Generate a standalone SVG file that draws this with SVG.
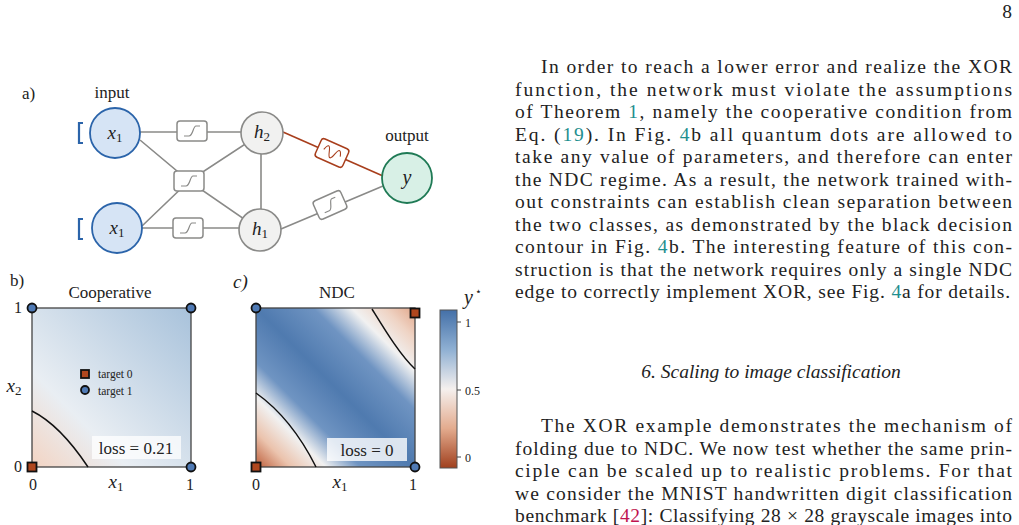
<svg xmlns="http://www.w3.org/2000/svg" width="1019" height="525" viewBox="0 0 1019 525">
<style>
text{font-family:"Liberation Serif","DejaVu Serif",serif;fill:#222}
.body{font-size:19.5px}
.lk{fill:#1f8f8f}
.rd{fill:#c0134f}
.edge{stroke:#8a8a88;stroke-width:1.6;fill:none}
.box{fill:#fff;stroke:#8a8a88;stroke-width:1.5}
.sig{fill:none;stroke:#8a8a88;stroke-width:1.2}
.in{fill:#d6e4f5;stroke:#2b64aa;stroke-width:1.8}
.hid{fill:#f1f1f0;stroke:#8a8a88;stroke-width:1.6}
.out{fill:#d8f0e6;stroke:#1f7a55;stroke-width:1.8}
.it{font-style:italic}
.lab{font-size:17px}
.tick{font-size:16px}
.mk{stroke:#111;stroke-width:1.8}
</style>
<defs>
<linearGradient id="gb" x1="0" y1="1" x2="1" y2="0">
<stop offset="0" stop-color="#f3d4c3"/><stop offset="0.3" stop-color="#e9eef3"/><stop offset="1" stop-color="#a8c2db"/>
</linearGradient>
<linearGradient id="gc" x1="0" y1="1" x2="1" y2="0">
<stop offset="0" stop-color="#bd5e3a"/><stop offset="0.11" stop-color="#ebc3ad"/><stop offset="0.22" stop-color="#f1f1f1"/><stop offset="0.33" stop-color="#6f94c2"/><stop offset="0.5" stop-color="#4f7aaf"/><stop offset="0.68" stop-color="#6f94c2"/><stop offset="0.8" stop-color="#f1f1f1"/><stop offset="0.9" stop-color="#efd4c5"/><stop offset="1" stop-color="#e2a78a"/>
</linearGradient>
<linearGradient id="gcb" x1="0" y1="1" x2="0" y2="0">
<stop offset="0" stop-color="#a0401e"/><stop offset="0.25" stop-color="#e3ab8e"/><stop offset="0.5" stop-color="#f5f0ee"/><stop offset="0.75" stop-color="#8fb0d3"/><stop offset="1" stop-color="#4470a8"/>
</linearGradient>
<g id="sg"><rect class="box" x="-15" y="-10" width="30" height="20" rx="3"/><path class="sig" d="M-8 5 H-3 C1 5 1 -5 4 -5 H8"/></g>
</defs>
<text x="1012" y="18" class="body" text-anchor="end">8</text>
<!-- panel a -->
<text x="22" y="99" class="lab">a)</text>
<text x="112" y="98" class="lab" text-anchor="middle" font-size="15">input</text>
<text x="407" y="141" class="lab" text-anchor="middle" font-size="15">output</text>
<g id="connectors">
<path class="edge" d="M140 132H262 M140 140L189 181L262 133 M142 226L189 181L260 230 M142 228H260 M261 154V209"/>
<path class="edge" d="M281 229L383 186"/>
<path d="M283 132L383 176" stroke="#a83e1c" stroke-width="1.6" fill="none"/>
</g>
<g id="box1"><use href="#sg" x="192" y="131"/></g>
<g id="box2"><use href="#sg" x="189" y="181"/></g>
<g id="box3"><use href="#sg" x="188" y="228"/></g>
<g id="box4"><use href="#sg" transform="translate(330 205) rotate(-24)"/></g>
<g id="box5" transform="translate(332 153) rotate(24)"><rect x="-15" y="-10" width="30" height="20" rx="3" fill="#fff" stroke="#a83e1c" stroke-width="1.5"/><path d="M-9 0 C-7 -7 -5 -7 -3 0 S1 7 3 0 S7 -7 9 0" fill="none" stroke="#a83e1c" stroke-width="1.1"/></g>
<g id="x1a"><path d="M83 123H79V143H83" stroke="#2b64aa" stroke-width="2.2" fill="none"/><circle class="in" cx="115" cy="133" r="25"/><text x="115" y="139" class="it" font-size="19" text-anchor="middle">x<tspan font-size="13" font-style="normal" dy="3">1</tspan></text></g>
<g id="x1b"><path d="M83 219H79V239H83" stroke="#2b64aa" stroke-width="2.2" fill="none"/><circle class="in" cx="117" cy="228" r="25"/><text x="117" y="234" class="it" font-size="19" text-anchor="middle">x<tspan font-size="13" font-style="normal" dy="3">1</tspan></text></g>
<g id="h2"><circle class="hid" cx="262" cy="133" r="21"/><text x="262" y="138" class="it" font-size="19" text-anchor="middle">h<tspan font-size="13" font-style="normal" dy="3">2</tspan></text></g>
<g id="h1"><circle class="hid" cx="260" cy="230" r="21"/><text x="260" y="235" class="it" font-size="19" text-anchor="middle">h<tspan font-size="13" font-style="normal" dy="3">1</tspan></text></g>
<g id="y"><circle class="out" cx="407" cy="178" r="25"/><text x="407" y="184" class="it" font-size="20" text-anchor="middle">y</text></g>
<!-- panel b -->
<text x="10" y="286" class="lab">b)</text>
<text x="110" y="298" class="lab" text-anchor="middle">Cooperative</text>
<rect x="32" y="308" width="159" height="159" fill="url(#gb)" stroke="#444" stroke-width="1.3"/>
<path d="M32 411C50 420 70 440 88 467" stroke="#111" stroke-width="1.5" fill="none"/>
<rect x="92" y="436" width="89" height="23" fill="#fff" fill-opacity="0.75"/>
<text x="136" y="454" class="lab" text-anchor="middle">loss = 0.21</text>
<rect x="81" y="370" width="8" height="8" fill="#b0471e" class="mk" stroke-width="1.4"/>
<circle cx="85" cy="390" r="4" fill="#4f7ab5" class="mk" stroke-width="1.4"/>
<text x="98" y="378" font-size="11.5">target 0</text>
<text x="98" y="395" font-size="11.5">target 1</text>
<circle cx="32" cy="308" r="4.5" fill="#4f7ab5" class="mk"/>
<circle cx="191" cy="308" r="4.5" fill="#4f7ab5" class="mk"/>
<circle cx="191" cy="467" r="4.5" fill="#4f7ab5" class="mk"/>
<rect x="27.5" y="462.5" width="9" height="9" fill="#b0471e" class="mk"/>
<text x="18" y="313" class="tick" text-anchor="middle">1</text>
<text x="18" y="472" class="tick" text-anchor="middle">0</text>
<text x="33" y="490" class="tick" text-anchor="middle">0</text>
<text x="190" y="490" class="tick" text-anchor="middle">1</text>
<text x="116" y="488" class="it" font-size="19" text-anchor="middle">x<tspan font-size="13" font-style="normal" dy="3">1</tspan></text>
<text x="14" y="392" class="it" font-size="19" text-anchor="middle">x<tspan font-size="13" font-style="normal" dy="3">2</tspan></text>
<!-- panel c -->
<text x="233" y="288" class="it" font-size="19">c)</text>
<text x="337" y="298" class="lab" text-anchor="middle">NDC</text>
<rect x="256" y="308" width="159" height="159" fill="url(#gc)" stroke="#444" stroke-width="1.3"/>
<path d="M256 393C280 410 300 435 316 467" stroke="#111" stroke-width="1.5" fill="none"/>
<path d="M372 309C385 330 400 355 415 369" stroke="#111" stroke-width="1.5" fill="none"/>
<rect x="327" y="438" width="80" height="23" fill="#fff" fill-opacity="0.8"/>
<text x="367" y="456" class="lab" text-anchor="middle">loss = 0</text>
<circle cx="256" cy="308" r="4.5" fill="#4f7ab5" class="mk"/>
<circle cx="415" cy="467" r="4.5" fill="#4f7ab5" class="mk"/>
<rect x="251.5" y="462.5" width="9" height="9" fill="#b0471e" class="mk"/>
<rect x="410.5" y="308.5" width="9" height="9" fill="#b0471e" class="mk"/>
<text x="256" y="490" class="tick" text-anchor="middle">0</text>
<text x="413" y="490" class="tick" text-anchor="middle">1</text>
<text x="340" y="488" class="it" font-size="19" text-anchor="middle">x<tspan font-size="13" font-style="normal" dy="3">1</tspan></text>
<rect x="440" y="310" width="17" height="158" fill="url(#gcb)" stroke="#555" stroke-width="1"/>
<path d="M457 322h4M457 390h4M457 457h4" stroke="#444"/>
<text x="465" y="327" font-size="12">1</text>
<text x="465" y="395" font-size="12">0.5</text>
<text x="465" y="462" font-size="12">0</text>
<text x="464" y="304" class="it" font-size="20">y</text>
<text x="475" y="295" font-size="11">⋆</text>
<!-- body text -->
<text x="541" y="73" class="body" textLength="471" lengthAdjust="spacing">In order to reach a lower error and realize the XOR</text>
<text x="515" y="95.5" class="body" textLength="497" lengthAdjust="spacing">function, the network must violate the assumptions</text>
<text x="515" y="118" class="body" textLength="497" lengthAdjust="spacing">of Theorem <tspan class="lk">1</tspan>, namely the cooperative condition from</text>
<text x="515" y="140.5" class="body" textLength="497" lengthAdjust="spacing">Eq. (<tspan class="lk">19</tspan>).  In Fig. <tspan class="lk">4</tspan>b all quantum dots are allowed to</text>
<text x="515" y="163" class="body" textLength="497" lengthAdjust="spacing">take any value of parameters, and therefore can enter</text>
<text x="515" y="185.5" class="body" textLength="497" lengthAdjust="spacing">the NDC regime. As a result, the network trained with-</text>
<text x="515" y="208" class="body" textLength="497" lengthAdjust="spacing">out constraints can establish clean separation between</text>
<text x="515" y="230.5" class="body" textLength="497" lengthAdjust="spacing">the two classes, as demonstrated by the black decision</text>
<text x="515" y="253" class="body" textLength="497" lengthAdjust="spacing">contour in Fig. <tspan class="lk">4</tspan>b.  The interesting feature of this con-</text>
<text x="515" y="275.5" class="body" textLength="497" lengthAdjust="spacing">struction is that the network requires only a single NDC</text>
<text x="515" y="298" class="body" textLength="495" lengthAdjust="spacing">edge to correctly implement XOR, see Fig. <tspan class="lk">4</tspan>a for details.</text>
<text x="771" y="378" class="body it" text-anchor="middle" font-size="17">6.   Scaling to image classification</text>
<text x="541" y="432" class="body" textLength="471" lengthAdjust="spacing">The XOR example demonstrates the mechanism of</text>
<text x="515" y="454.5" class="body" textLength="497" lengthAdjust="spacing">folding due to NDC. We now test whether the same prin-</text>
<text x="515" y="477" class="body" textLength="497" lengthAdjust="spacing">ciple can be scaled up to realistic problems.  For that</text>
<text x="515" y="499.5" class="body" textLength="497" lengthAdjust="spacing">we consider the MNIST handwritten digit classification</text>
<text x="515" y="522" class="body" textLength="497" lengthAdjust="spacing">benchmark [<tspan class="rd">42</tspan>]: Classifying 28 × 28 grayscale images into</text>
</svg>
